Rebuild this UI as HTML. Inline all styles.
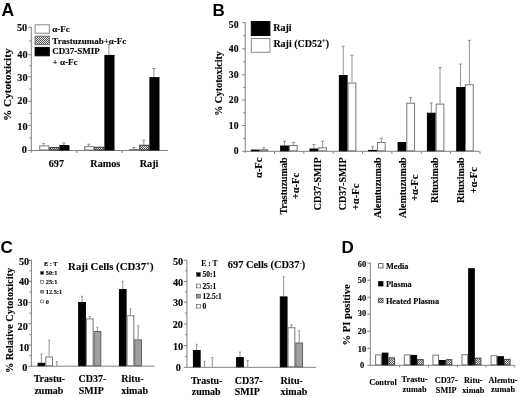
<!DOCTYPE html><html><head><meta charset="utf-8"><style>html,body{margin:0;padding:0;background:#fff;overflow:hidden}svg{display:block;filter:blur(0.3px);}</style></head><body>
<svg width="520" height="397" viewBox="0 0 520 397">
<defs><pattern id="hat" width="2" height="2" patternUnits="userSpaceOnUse"><rect width="2" height="2" fill="#e8e8e8"/><rect width="1" height="1" fill="#555"/><rect x="1" y="1" width="1" height="1" fill="#555"/></pattern></defs>
<rect width="520" height="397" fill="#fff"/>
<text x="1.40" y="15.60" font-size="17.5" text-anchor="start" style="font-family:'Liberation Sans',sans-serif;font-weight:bold" fill="#000">A</text>
<text x="212.60" y="15.80" font-size="17" text-anchor="start" style="font-family:'Liberation Sans',sans-serif;font-weight:bold" fill="#000">B</text>
<text x="0.60" y="252.80" font-size="17" text-anchor="start" style="font-family:'Liberation Sans',sans-serif;font-weight:bold" fill="#000">C</text>
<text x="341.60" y="252.80" font-size="17" text-anchor="start" style="font-family:'Liberation Sans',sans-serif;font-weight:bold" fill="#000">D</text>
<line x1="31.30" y1="27.00" x2="31.30" y2="152.80" stroke="#808080" stroke-width="1"/>
<line x1="28.30" y1="150.50" x2="31.30" y2="150.50" stroke="#808080" stroke-width="1"/>
<line x1="28.30" y1="125.40" x2="31.30" y2="125.40" stroke="#808080" stroke-width="1"/>
<line x1="28.30" y1="101.40" x2="31.30" y2="101.40" stroke="#808080" stroke-width="1"/>
<line x1="28.30" y1="76.80" x2="31.30" y2="76.80" stroke="#808080" stroke-width="1"/>
<line x1="28.30" y1="54.70" x2="31.30" y2="54.70" stroke="#808080" stroke-width="1"/>
<line x1="28.30" y1="27.30" x2="31.30" y2="27.30" stroke="#808080" stroke-width="1"/>
<line x1="29.30" y1="41.00" x2="31.30" y2="41.00" stroke="#808080" stroke-width="1"/>
<line x1="29.30" y1="65.75" x2="31.30" y2="65.75" stroke="#808080" stroke-width="1"/>
<line x1="29.30" y1="89.10" x2="31.30" y2="89.10" stroke="#808080" stroke-width="1"/>
<line x1="29.30" y1="113.40" x2="31.30" y2="113.40" stroke="#808080" stroke-width="1"/>
<line x1="29.30" y1="137.95" x2="31.30" y2="137.95" stroke="#808080" stroke-width="1"/>
<text x="26.80" y="153.05" font-size="10.3" text-anchor="end" style="font-family:'Liberation Serif',serif;font-weight:bold" fill="#000" stroke="#000" stroke-width="0.12">0</text>
<text x="27.60" y="129.85" font-size="10.3" text-anchor="end" style="font-family:'Liberation Serif',serif;font-weight:bold" fill="#000" stroke="#000" stroke-width="0.12">10</text>
<text x="27.60" y="104.45" font-size="10.3" text-anchor="end" style="font-family:'Liberation Serif',serif;font-weight:bold" fill="#000" stroke="#000" stroke-width="0.12">20</text>
<text x="27.60" y="81.35" font-size="10.3" text-anchor="end" style="font-family:'Liberation Serif',serif;font-weight:bold" fill="#000" stroke="#000" stroke-width="0.12">30</text>
<text x="27.60" y="58.05" font-size="10.3" text-anchor="end" style="font-family:'Liberation Serif',serif;font-weight:bold" fill="#000" stroke="#000" stroke-width="0.12">40</text>
<text x="27.20" y="31.15" font-size="10.3" text-anchor="end" style="font-family:'Liberation Serif',serif;font-weight:bold" fill="#000" stroke="#000" stroke-width="0.12">50</text>
<line x1="31.30" y1="150.50" x2="168.00" y2="150.50" stroke="#808080" stroke-width="1"/>
<line x1="76.70" y1="150.50" x2="76.70" y2="153.00" stroke="#808080" stroke-width="1"/>
<line x1="122.00" y1="150.50" x2="122.00" y2="153.00" stroke="#808080" stroke-width="1"/>
<line x1="43.70" y1="145.40" x2="43.70" y2="143.60" stroke="#909090" stroke-width="1"/>
<line x1="42.20" y1="143.60" x2="45.20" y2="143.60" stroke="#909090" stroke-width="1"/>
<rect x="39.70" y="145.90" width="9.10" height="4.10" fill="#fff" stroke="#777777" stroke-width="1"/>
<rect x="49.80" y="147.60" width="9.10" height="2.40" fill="url(#hat)" stroke="#333" stroke-width="1"/>
<line x1="63.90" y1="145.10" x2="63.90" y2="143.10" stroke="#909090" stroke-width="1"/>
<line x1="62.40" y1="143.10" x2="65.40" y2="143.10" stroke="#909090" stroke-width="1"/>
<rect x="59.90" y="145.60" width="9.10" height="4.40" fill="#000" stroke="#000" stroke-width="1"/>
<line x1="88.70" y1="146.20" x2="88.70" y2="144.20" stroke="#909090" stroke-width="1"/>
<line x1="87.20" y1="144.20" x2="90.20" y2="144.20" stroke="#909090" stroke-width="1"/>
<rect x="84.70" y="146.70" width="9.10" height="3.30" fill="#fff" stroke="#777777" stroke-width="1"/>
<rect x="94.80" y="147.20" width="9.10" height="2.80" fill="url(#hat)" stroke="#333" stroke-width="1"/>
<line x1="108.90" y1="54.90" x2="108.90" y2="44.60" stroke="#909090" stroke-width="1"/>
<line x1="107.40" y1="44.60" x2="110.40" y2="44.60" stroke="#909090" stroke-width="1"/>
<rect x="104.90" y="55.40" width="9.10" height="94.60" fill="#000" stroke="#000" stroke-width="1"/>
<line x1="133.70" y1="149.00" x2="133.70" y2="147.50" stroke="#909090" stroke-width="1"/>
<line x1="132.20" y1="147.50" x2="135.20" y2="147.50" stroke="#909090" stroke-width="1"/>
<rect x="129.70" y="149.50" width="9.10" height="0.50" fill="#fff" stroke="#777777" stroke-width="1"/>
<line x1="143.80" y1="144.80" x2="143.80" y2="140.20" stroke="#909090" stroke-width="1"/>
<line x1="142.30" y1="140.20" x2="145.30" y2="140.20" stroke="#909090" stroke-width="1"/>
<rect x="139.80" y="145.30" width="9.10" height="4.70" fill="url(#hat)" stroke="#333" stroke-width="1"/>
<line x1="153.90" y1="77.20" x2="153.90" y2="68.50" stroke="#909090" stroke-width="1"/>
<line x1="152.40" y1="68.50" x2="155.40" y2="68.50" stroke="#909090" stroke-width="1"/>
<rect x="149.90" y="77.70" width="9.10" height="72.30" fill="#000" stroke="#000" stroke-width="1"/>
<rect x="35.10" y="24.80" width="14.20" height="8.40" fill="#fff" stroke="#888" stroke-width="1"/>
<rect x="35.10" y="36.20" width="14.20" height="8.40" fill="url(#hat)" stroke="#666" stroke-width="1"/>
<rect x="35.10" y="47.40" width="14.20" height="8.40" fill="#000" stroke="#000" stroke-width="1"/>
<text x="52.30" y="31.50" font-size="9" text-anchor="start" style="font-family:'Liberation Serif',serif;font-weight:bold" fill="#000" stroke="#000" stroke-width="0.12">α-Fc</text>
<text x="52.30" y="43.50" font-size="9" text-anchor="start" style="font-family:'Liberation Serif',serif;font-weight:bold" fill="#000" stroke="#000" stroke-width="0.12">Trastuzumab+α-Fc</text>
<text x="52.30" y="54.30" font-size="9" text-anchor="start" style="font-family:'Liberation Serif',serif;font-weight:bold" fill="#000" stroke="#000" stroke-width="0.12">CD37-SMIP</text>
<text x="52.60" y="64.80" font-size="9" text-anchor="start" style="font-family:'Liberation Serif',serif;font-weight:bold" fill="#000" stroke="#000" stroke-width="0.12">+ α-Fc</text>
<text x="0" y="0" font-size="11.2" text-anchor="middle" style="font-family:'Liberation Serif',serif;font-weight:bold" stroke="#000" stroke-width="0.12" transform="translate(11.00,84.70) rotate(-90)">% Cytotoxicity</text>
<text x="56.40" y="166.60" font-size="10.2" text-anchor="middle" style="font-family:'Liberation Serif',serif;font-weight:bold" fill="#000" stroke="#000" stroke-width="0.12">697</text>
<text x="105.30" y="166.60" font-size="10.2" text-anchor="middle" style="font-family:'Liberation Serif',serif;font-weight:bold" fill="#000" stroke="#000" stroke-width="0.12">Ramos</text>
<text x="149.10" y="166.60" font-size="10.2" text-anchor="middle" style="font-family:'Liberation Serif',serif;font-weight:bold" fill="#000" stroke="#000" stroke-width="0.12">Raji</text>
<line x1="245.20" y1="22.50" x2="245.20" y2="152.80" stroke="#808080" stroke-width="1"/>
<line x1="242.20" y1="151.30" x2="245.20" y2="151.30" stroke="#808080" stroke-width="1"/>
<line x1="242.20" y1="125.50" x2="245.20" y2="125.50" stroke="#808080" stroke-width="1"/>
<line x1="242.20" y1="100.00" x2="245.20" y2="100.00" stroke="#808080" stroke-width="1"/>
<line x1="242.20" y1="74.80" x2="245.20" y2="74.80" stroke="#808080" stroke-width="1"/>
<line x1="242.20" y1="48.80" x2="245.20" y2="48.80" stroke="#808080" stroke-width="1"/>
<line x1="242.20" y1="22.70" x2="245.20" y2="22.70" stroke="#808080" stroke-width="1"/>
<line x1="243.20" y1="35.75" x2="245.20" y2="35.75" stroke="#808080" stroke-width="1"/>
<line x1="243.20" y1="61.80" x2="245.20" y2="61.80" stroke="#808080" stroke-width="1"/>
<line x1="243.20" y1="87.40" x2="245.20" y2="87.40" stroke="#808080" stroke-width="1"/>
<line x1="243.20" y1="112.75" x2="245.20" y2="112.75" stroke="#808080" stroke-width="1"/>
<line x1="243.20" y1="138.40" x2="245.20" y2="138.40" stroke="#808080" stroke-width="1"/>
<text x="238.50" y="153.85" font-size="9.7" text-anchor="end" style="font-family:'Liberation Serif',serif;font-weight:bold" fill="#000" stroke="#000" stroke-width="0.12">0</text>
<text x="238.50" y="129.05" font-size="9.7" text-anchor="end" style="font-family:'Liberation Serif',serif;font-weight:bold" fill="#000" stroke="#000" stroke-width="0.12">10</text>
<text x="238.50" y="103.45" font-size="9.7" text-anchor="end" style="font-family:'Liberation Serif',serif;font-weight:bold" fill="#000" stroke="#000" stroke-width="0.12">20</text>
<text x="238.50" y="78.35" font-size="9.7" text-anchor="end" style="font-family:'Liberation Serif',serif;font-weight:bold" fill="#000" stroke="#000" stroke-width="0.12">30</text>
<text x="238.50" y="52.05" font-size="9.7" text-anchor="end" style="font-family:'Liberation Serif',serif;font-weight:bold" fill="#000" stroke="#000" stroke-width="0.12">40</text>
<text x="238.50" y="27.75" font-size="9.7" text-anchor="end" style="font-family:'Liberation Serif',serif;font-weight:bold" fill="#000" stroke="#000" stroke-width="0.12">50</text>
<line x1="245.20" y1="151.30" x2="479.50" y2="151.30" stroke="#808080" stroke-width="1"/>
<line x1="274.50" y1="151.30" x2="274.50" y2="153.80" stroke="#808080" stroke-width="1"/>
<line x1="303.85" y1="151.30" x2="303.85" y2="153.80" stroke="#808080" stroke-width="1"/>
<line x1="333.20" y1="151.30" x2="333.20" y2="153.80" stroke="#808080" stroke-width="1"/>
<line x1="362.55" y1="151.30" x2="362.55" y2="153.80" stroke="#808080" stroke-width="1"/>
<line x1="391.90" y1="151.30" x2="391.90" y2="153.80" stroke="#808080" stroke-width="1"/>
<line x1="421.25" y1="151.30" x2="421.25" y2="153.80" stroke="#808080" stroke-width="1"/>
<line x1="450.60" y1="151.30" x2="450.60" y2="153.80" stroke="#808080" stroke-width="1"/>
<line x1="479.95" y1="151.30" x2="479.95" y2="153.80" stroke="#808080" stroke-width="1"/>
<line x1="263.93" y1="149.20" x2="263.93" y2="147.80" stroke="#909090" stroke-width="1"/>
<line x1="262.43" y1="147.80" x2="265.43" y2="147.80" stroke="#909090" stroke-width="1"/>
<rect x="251.30" y="150.10" width="7.75" height="0.70" fill="#000" stroke="#000" stroke-width="1"/>
<rect x="260.05" y="149.70" width="7.75" height="1.10" fill="#fff" stroke="#777777" stroke-width="1"/>
<line x1="284.53" y1="145.50" x2="284.53" y2="141.20" stroke="#909090" stroke-width="1"/>
<line x1="283.03" y1="141.20" x2="286.03" y2="141.20" stroke="#909090" stroke-width="1"/>
<line x1="293.28" y1="145.00" x2="293.28" y2="142.40" stroke="#909090" stroke-width="1"/>
<line x1="291.78" y1="142.40" x2="294.78" y2="142.40" stroke="#909090" stroke-width="1"/>
<rect x="280.65" y="146.00" width="7.75" height="4.80" fill="#000" stroke="#000" stroke-width="1"/>
<rect x="289.40" y="145.50" width="7.75" height="5.30" fill="#fff" stroke="#777777" stroke-width="1"/>
<line x1="313.88" y1="148.50" x2="313.88" y2="144.50" stroke="#909090" stroke-width="1"/>
<line x1="312.38" y1="144.50" x2="315.38" y2="144.50" stroke="#909090" stroke-width="1"/>
<line x1="322.62" y1="147.30" x2="322.62" y2="141.20" stroke="#909090" stroke-width="1"/>
<line x1="321.12" y1="141.20" x2="324.12" y2="141.20" stroke="#909090" stroke-width="1"/>
<rect x="310.00" y="149.00" width="7.75" height="1.80" fill="#000" stroke="#000" stroke-width="1"/>
<rect x="318.75" y="147.80" width="7.75" height="3.00" fill="#fff" stroke="#777777" stroke-width="1"/>
<line x1="343.23" y1="75.00" x2="343.23" y2="46.30" stroke="#909090" stroke-width="1"/>
<line x1="341.73" y1="46.30" x2="344.73" y2="46.30" stroke="#909090" stroke-width="1"/>
<line x1="351.98" y1="82.60" x2="351.98" y2="55.20" stroke="#909090" stroke-width="1"/>
<line x1="350.48" y1="55.20" x2="353.48" y2="55.20" stroke="#909090" stroke-width="1"/>
<rect x="339.35" y="75.50" width="7.75" height="75.30" fill="#000" stroke="#000" stroke-width="1"/>
<rect x="348.10" y="83.10" width="7.75" height="67.70" fill="#fff" stroke="#777777" stroke-width="1"/>
<line x1="372.58" y1="149.90" x2="372.58" y2="146.70" stroke="#909090" stroke-width="1"/>
<line x1="371.08" y1="146.70" x2="374.08" y2="146.70" stroke="#909090" stroke-width="1"/>
<line x1="381.33" y1="142.00" x2="381.33" y2="138.10" stroke="#909090" stroke-width="1"/>
<line x1="379.83" y1="138.10" x2="382.83" y2="138.10" stroke="#909090" stroke-width="1"/>
<rect x="368.70" y="150.40" width="7.75" height="0.40" fill="#000" stroke="#000" stroke-width="1"/>
<rect x="377.45" y="142.50" width="7.75" height="8.30" fill="#fff" stroke="#777777" stroke-width="1"/>
<line x1="410.68" y1="102.70" x2="410.68" y2="97.40" stroke="#909090" stroke-width="1"/>
<line x1="409.18" y1="97.40" x2="412.18" y2="97.40" stroke="#909090" stroke-width="1"/>
<rect x="398.05" y="142.50" width="7.75" height="8.30" fill="#000" stroke="#000" stroke-width="1"/>
<rect x="406.80" y="103.20" width="7.75" height="47.60" fill="#fff" stroke="#777777" stroke-width="1"/>
<line x1="431.28" y1="112.70" x2="431.28" y2="103.00" stroke="#909090" stroke-width="1"/>
<line x1="429.78" y1="103.00" x2="432.78" y2="103.00" stroke="#909090" stroke-width="1"/>
<line x1="440.03" y1="103.60" x2="440.03" y2="67.60" stroke="#909090" stroke-width="1"/>
<line x1="438.53" y1="67.60" x2="441.53" y2="67.60" stroke="#909090" stroke-width="1"/>
<rect x="427.40" y="113.20" width="7.75" height="37.60" fill="#000" stroke="#000" stroke-width="1"/>
<rect x="436.15" y="104.10" width="7.75" height="46.70" fill="#fff" stroke="#777777" stroke-width="1"/>
<line x1="460.62" y1="87.00" x2="460.62" y2="64.10" stroke="#909090" stroke-width="1"/>
<line x1="459.12" y1="64.10" x2="462.12" y2="64.10" stroke="#909090" stroke-width="1"/>
<line x1="469.38" y1="84.20" x2="469.38" y2="40.30" stroke="#909090" stroke-width="1"/>
<line x1="467.88" y1="40.30" x2="470.88" y2="40.30" stroke="#909090" stroke-width="1"/>
<rect x="456.75" y="87.50" width="7.75" height="63.30" fill="#000" stroke="#000" stroke-width="1"/>
<rect x="465.50" y="84.70" width="7.75" height="66.10" fill="#fff" stroke="#777777" stroke-width="1"/>
<rect x="251.30" y="21.50" width="18.60" height="14.00" fill="#000" stroke="#000" stroke-width="1"/>
<rect x="251.30" y="38.50" width="18.60" height="13.80" fill="#fff" stroke="#888" stroke-width="1"/>
<text x="273.20" y="31.20" font-size="10" text-anchor="start" style="font-family:'Liberation Serif',serif;font-weight:bold" fill="#000" stroke="#000" stroke-width="0.12">Raji</text>
<text x="273.40" y="46.80" font-size="10" text-anchor="start" style="font-family:'Liberation Serif',serif;font-weight:bold" fill="#000" stroke="#000" stroke-width="0.12">Raji (CD52<tspan font-size="6.5" dy="-3.5">+</tspan><tspan dy="3.5">)</tspan></text>
<text x="0" y="0" font-size="10" text-anchor="middle" style="font-family:'Liberation Serif',serif;font-weight:bold" stroke="#000" stroke-width="0.12" transform="translate(222.20,83.50) rotate(-90)">% Cytotoxicity</text>
<text x="0" y="0" font-size="10.6" text-anchor="middle" style="font-family:'Liberation Serif',serif;font-weight:bold" stroke="#000" stroke-width="0.12" transform="translate(262.10,167.80) rotate(-90)">α-Fc</text>
<text x="0" y="0" font-size="10" text-anchor="middle" style="font-family:'Liberation Serif',serif;font-weight:bold" stroke="#000" stroke-width="0.12" transform="translate(287.30,186.03) rotate(-90)">Trastuzumab</text>
<text x="0" y="0" font-size="10.6" text-anchor="middle" style="font-family:'Liberation Serif',serif;font-weight:bold" stroke="#000" stroke-width="0.12" transform="translate(299.10,186.03) rotate(-90)">+α-Fc</text>
<text x="0" y="0" font-size="10" text-anchor="middle" style="font-family:'Liberation Serif',serif;font-weight:bold" stroke="#000" stroke-width="0.12" transform="translate(320.50,183.89) rotate(-90)">CD37-SMIP</text>
<text x="0" y="0" font-size="10" text-anchor="start" style="font-family:'Liberation Serif',serif;font-weight:bold" stroke="#000" stroke-width="0.12" transform="translate(346.40,210.28) rotate(-90)">CD37-SMIP</text>
<text x="0" y="0" font-size="10.6" text-anchor="start" style="font-family:'Liberation Serif',serif;font-weight:bold" stroke="#000" stroke-width="0.12" transform="translate(359.40,210.28) rotate(-90)">+α-Fc</text>
<text x="0" y="0" font-size="10" text-anchor="middle" style="font-family:'Liberation Serif',serif;font-weight:bold" stroke="#000" stroke-width="0.12" transform="translate(381.40,187.78) rotate(-90)">Alemtuzumab</text>
<text x="0" y="0" font-size="10" text-anchor="middle" style="font-family:'Liberation Serif',serif;font-weight:bold" stroke="#000" stroke-width="0.12" transform="translate(405.50,187.78) rotate(-90)">Alemtuzumab</text>
<text x="0" y="0" font-size="10.6" text-anchor="middle" style="font-family:'Liberation Serif',serif;font-weight:bold" stroke="#000" stroke-width="0.12" transform="translate(418.30,187.78) rotate(-90)">+α-Fc</text>
<text x="0" y="0" font-size="10" text-anchor="middle" style="font-family:'Liberation Serif',serif;font-weight:bold" stroke="#000" stroke-width="0.12" transform="translate(438.30,180.28) rotate(-90)">Rituximab</text>
<text x="0" y="0" font-size="10" text-anchor="middle" style="font-family:'Liberation Serif',serif;font-weight:bold" stroke="#000" stroke-width="0.12" transform="translate(464.30,180.28) rotate(-90)">Rituximab</text>
<text x="0" y="0" font-size="10.6" text-anchor="middle" style="font-family:'Liberation Serif',serif;font-weight:bold" stroke="#000" stroke-width="0.12" transform="translate(477.30,180.28) rotate(-90)">+α-Fc</text>
<line x1="31.40" y1="259.50" x2="31.40" y2="367.00" stroke="#808080" stroke-width="1"/>
<line x1="28.40" y1="366.20" x2="31.40" y2="366.20" stroke="#808080" stroke-width="1"/>
<line x1="28.40" y1="345.00" x2="31.40" y2="345.00" stroke="#808080" stroke-width="1"/>
<line x1="28.40" y1="323.70" x2="31.40" y2="323.70" stroke="#808080" stroke-width="1"/>
<line x1="28.40" y1="302.60" x2="31.40" y2="302.60" stroke="#808080" stroke-width="1"/>
<line x1="28.40" y1="281.20" x2="31.40" y2="281.20" stroke="#808080" stroke-width="1"/>
<line x1="28.40" y1="260.40" x2="31.40" y2="260.40" stroke="#808080" stroke-width="1"/>
<line x1="29.40" y1="270.80" x2="31.40" y2="270.80" stroke="#808080" stroke-width="1"/>
<line x1="29.40" y1="291.90" x2="31.40" y2="291.90" stroke="#808080" stroke-width="1"/>
<line x1="29.40" y1="313.15" x2="31.40" y2="313.15" stroke="#808080" stroke-width="1"/>
<line x1="29.40" y1="334.35" x2="31.40" y2="334.35" stroke="#808080" stroke-width="1"/>
<line x1="29.40" y1="355.60" x2="31.40" y2="355.60" stroke="#808080" stroke-width="1"/>
<text x="27.30" y="371.12" font-size="10.2" text-anchor="end" style="font-family:'Liberation Serif',serif;font-weight:bold" fill="#000" stroke="#000" stroke-width="0.12">0</text>
<text x="29.10" y="350.62" font-size="10.2" text-anchor="end" style="font-family:'Liberation Serif',serif;font-weight:bold" fill="#000" stroke="#000" stroke-width="0.12">10</text>
<text x="27.80" y="329.62" font-size="10.2" text-anchor="end" style="font-family:'Liberation Serif',serif;font-weight:bold" fill="#000" stroke="#000" stroke-width="0.12">20</text>
<text x="27.80" y="306.12" font-size="10.2" text-anchor="end" style="font-family:'Liberation Serif',serif;font-weight:bold" fill="#000" stroke="#000" stroke-width="0.12">30</text>
<text x="29.20" y="284.82" font-size="10.2" text-anchor="end" style="font-family:'Liberation Serif',serif;font-weight:bold" fill="#000" stroke="#000" stroke-width="0.12">40</text>
<text x="29.20" y="265.02" font-size="10.2" text-anchor="end" style="font-family:'Liberation Serif',serif;font-weight:bold" fill="#000" stroke="#000" stroke-width="0.12">50</text>
<line x1="31.40" y1="366.20" x2="154.40" y2="366.20" stroke="#808080" stroke-width="1"/>
<line x1="41.45" y1="362.80" x2="41.45" y2="354.00" stroke="#909090" stroke-width="1"/>
<line x1="40.45" y1="354.00" x2="42.45" y2="354.00" stroke="#909090" stroke-width="1"/>
<rect x="38.10" y="363.30" width="6.70" height="2.40" fill="#000" stroke="#000" stroke-width="1"/>
<line x1="49.15" y1="356.50" x2="49.15" y2="340.20" stroke="#909090" stroke-width="1"/>
<line x1="48.15" y1="340.20" x2="50.15" y2="340.20" stroke="#909090" stroke-width="1"/>
<rect x="45.80" y="357.00" width="6.70" height="8.70" fill="#fff" stroke="#777777" stroke-width="1"/>
<line x1="56.85" y1="366.20" x2="56.85" y2="361.60" stroke="#909090" stroke-width="1"/>
<line x1="55.85" y1="361.60" x2="57.85" y2="361.60" stroke="#909090" stroke-width="1"/>
<line x1="82.05" y1="302.00" x2="82.05" y2="296.30" stroke="#909090" stroke-width="1"/>
<line x1="81.05" y1="296.30" x2="83.05" y2="296.30" stroke="#909090" stroke-width="1"/>
<rect x="78.70" y="302.50" width="6.70" height="63.20" fill="#000" stroke="#000" stroke-width="1"/>
<line x1="89.75" y1="318.40" x2="89.75" y2="316.50" stroke="#909090" stroke-width="1"/>
<line x1="88.75" y1="316.50" x2="90.75" y2="316.50" stroke="#909090" stroke-width="1"/>
<rect x="86.40" y="318.90" width="6.70" height="46.80" fill="#fff" stroke="#777777" stroke-width="1"/>
<line x1="97.45" y1="331.00" x2="97.45" y2="327.20" stroke="#909090" stroke-width="1"/>
<line x1="96.45" y1="327.20" x2="98.45" y2="327.20" stroke="#909090" stroke-width="1"/>
<rect x="94.10" y="331.50" width="6.70" height="34.20" fill="#a0a0a0" stroke="#606060" stroke-width="1"/>
<line x1="122.75" y1="289.10" x2="122.75" y2="281.30" stroke="#909090" stroke-width="1"/>
<line x1="121.75" y1="281.30" x2="123.75" y2="281.30" stroke="#909090" stroke-width="1"/>
<rect x="119.40" y="289.60" width="6.70" height="76.10" fill="#000" stroke="#000" stroke-width="1"/>
<line x1="130.45" y1="315.30" x2="130.45" y2="309.00" stroke="#909090" stroke-width="1"/>
<line x1="129.45" y1="309.00" x2="131.45" y2="309.00" stroke="#909090" stroke-width="1"/>
<rect x="127.10" y="315.80" width="6.70" height="49.90" fill="#fff" stroke="#777777" stroke-width="1"/>
<line x1="138.15" y1="339.40" x2="138.15" y2="325.80" stroke="#909090" stroke-width="1"/>
<line x1="137.15" y1="325.80" x2="139.15" y2="325.80" stroke="#909090" stroke-width="1"/>
<rect x="134.80" y="339.90" width="6.70" height="25.80" fill="#a0a0a0" stroke="#606060" stroke-width="1"/>
<text x="44.00" y="266.30" font-size="6.3" text-anchor="start" style="font-family:'Liberation Serif',serif;font-weight:bold" fill="#000" stroke="#000" stroke-width="0.12">E : T</text>
<rect x="40.70" y="271.50" width="2.80" height="2.80" fill="#000" stroke="#444" stroke-width="0.6"/>
<rect x="40.70" y="280.60" width="2.80" height="2.80" fill="#fff" stroke="#444" stroke-width="0.6"/>
<rect x="40.70" y="290.30" width="2.80" height="2.80" fill="#999" stroke="#444" stroke-width="0.6"/>
<rect x="40.70" y="300.00" width="2.80" height="2.80" fill="#fff" stroke="#444" stroke-width="0.6"/>
<text x="45.80" y="275.10" font-size="6.3" text-anchor="start" style="font-family:'Liberation Serif',serif;font-weight:bold" fill="#000" stroke="#000" stroke-width="0.12">50:1</text>
<text x="45.80" y="284.20" font-size="6.3" text-anchor="start" style="font-family:'Liberation Serif',serif;font-weight:bold" fill="#000" stroke="#000" stroke-width="0.12">25:1</text>
<text x="45.80" y="293.90" font-size="6.3" text-anchor="start" style="font-family:'Liberation Serif',serif;font-weight:bold" fill="#000" stroke="#000" stroke-width="0.12">12.5:1</text>
<text x="45.80" y="303.60" font-size="6.3" text-anchor="start" style="font-family:'Liberation Serif',serif;font-weight:bold" fill="#000" stroke="#000" stroke-width="0.12">0</text>
<text x="68.10" y="269.80" font-size="10.8" text-anchor="start" style="font-family:'Liberation Serif',serif;font-weight:bold" fill="#000" stroke="#000" stroke-width="0.12">Raji Cells (CD37<tspan font-size="6.8" dy="-3.6">+</tspan><tspan dy="3.6">)</tspan></text>
<text x="0" y="0" font-size="10.3" text-anchor="middle" style="font-family:'Liberation Serif',serif;font-weight:bold" stroke="#000" stroke-width="0.12" transform="translate(12.80,320.50) rotate(-90)">% Relative Cytotoxicity</text>
<text x="33.70" y="382.10" font-size="10" text-anchor="start" style="font-family:'Liberation Serif',serif;font-weight:bold" fill="#000" stroke="#000" stroke-width="0.12">Trastu-</text>
<text x="34.40" y="394.00" font-size="10" text-anchor="start" style="font-family:'Liberation Serif',serif;font-weight:bold" fill="#000" stroke="#000" stroke-width="0.12">zumab</text>
<text x="78.50" y="382.10" font-size="10" text-anchor="start" style="font-family:'Liberation Serif',serif;font-weight:bold" fill="#000" stroke="#000" stroke-width="0.12">CD37-</text>
<text x="78.80" y="394.00" font-size="10" text-anchor="start" style="font-family:'Liberation Serif',serif;font-weight:bold" fill="#000" stroke="#000" stroke-width="0.12">SMIP</text>
<text x="121.30" y="382.10" font-size="10" text-anchor="start" style="font-family:'Liberation Serif',serif;font-weight:bold" fill="#000" stroke="#000" stroke-width="0.12">Ritu-</text>
<text x="121.30" y="394.00" font-size="10" text-anchor="start" style="font-family:'Liberation Serif',serif;font-weight:bold" fill="#000" stroke="#000" stroke-width="0.12">ximab</text>
<line x1="186.90" y1="259.50" x2="186.90" y2="368.00" stroke="#808080" stroke-width="1"/>
<line x1="183.90" y1="367.30" x2="186.90" y2="367.30" stroke="#808080" stroke-width="1"/>
<line x1="183.90" y1="345.60" x2="186.90" y2="345.60" stroke="#808080" stroke-width="1"/>
<line x1="183.90" y1="324.00" x2="186.90" y2="324.00" stroke="#808080" stroke-width="1"/>
<line x1="183.90" y1="302.20" x2="186.90" y2="302.20" stroke="#808080" stroke-width="1"/>
<line x1="183.90" y1="281.40" x2="186.90" y2="281.40" stroke="#808080" stroke-width="1"/>
<line x1="183.90" y1="260.30" x2="186.90" y2="260.30" stroke="#808080" stroke-width="1"/>
<line x1="184.90" y1="270.85" x2="186.90" y2="270.85" stroke="#808080" stroke-width="1"/>
<line x1="184.90" y1="291.80" x2="186.90" y2="291.80" stroke="#808080" stroke-width="1"/>
<line x1="184.90" y1="313.10" x2="186.90" y2="313.10" stroke="#808080" stroke-width="1"/>
<line x1="184.90" y1="334.80" x2="186.90" y2="334.80" stroke="#808080" stroke-width="1"/>
<line x1="184.90" y1="356.45" x2="186.90" y2="356.45" stroke="#808080" stroke-width="1"/>
<text x="180.90" y="370.92" font-size="10.2" text-anchor="end" style="font-family:'Liberation Serif',serif;font-weight:bold" fill="#000" stroke="#000" stroke-width="0.12">0</text>
<text x="183.10" y="349.82" font-size="10.2" text-anchor="end" style="font-family:'Liberation Serif',serif;font-weight:bold" fill="#000" stroke="#000" stroke-width="0.12">10</text>
<text x="182.90" y="327.82" font-size="10.2" text-anchor="end" style="font-family:'Liberation Serif',serif;font-weight:bold" fill="#000" stroke="#000" stroke-width="0.12">20</text>
<text x="183.10" y="306.02" font-size="10.2" text-anchor="end" style="font-family:'Liberation Serif',serif;font-weight:bold" fill="#000" stroke="#000" stroke-width="0.12">30</text>
<text x="183.10" y="285.62" font-size="10.2" text-anchor="end" style="font-family:'Liberation Serif',serif;font-weight:bold" fill="#000" stroke="#000" stroke-width="0.12">40</text>
<text x="183.10" y="265.22" font-size="10.2" text-anchor="end" style="font-family:'Liberation Serif',serif;font-weight:bold" fill="#000" stroke="#000" stroke-width="0.12">50</text>
<line x1="186.90" y1="367.30" x2="316.20" y2="367.30" stroke="#808080" stroke-width="1"/>
<line x1="196.78" y1="350.00" x2="196.78" y2="344.30" stroke="#909090" stroke-width="1"/>
<line x1="195.78" y1="344.30" x2="197.78" y2="344.30" stroke="#909090" stroke-width="1"/>
<rect x="193.40" y="350.50" width="6.75" height="16.30" fill="#000" stroke="#000" stroke-width="1"/>
<line x1="204.53" y1="367.30" x2="204.53" y2="361.30" stroke="#909090" stroke-width="1"/>
<line x1="203.53" y1="361.30" x2="205.53" y2="361.30" stroke="#909090" stroke-width="1"/>
<line x1="212.28" y1="367.30" x2="212.28" y2="357.50" stroke="#909090" stroke-width="1"/>
<line x1="211.28" y1="357.50" x2="213.28" y2="357.50" stroke="#909090" stroke-width="1"/>
<line x1="239.97" y1="357.10" x2="239.97" y2="352.10" stroke="#909090" stroke-width="1"/>
<line x1="238.97" y1="352.10" x2="240.97" y2="352.10" stroke="#909090" stroke-width="1"/>
<rect x="236.60" y="357.60" width="6.75" height="9.20" fill="#000" stroke="#000" stroke-width="1"/>
<line x1="247.72" y1="367.30" x2="247.72" y2="360.50" stroke="#909090" stroke-width="1"/>
<line x1="246.72" y1="360.50" x2="248.72" y2="360.50" stroke="#909090" stroke-width="1"/>
<line x1="283.68" y1="296.40" x2="283.68" y2="276.80" stroke="#909090" stroke-width="1"/>
<line x1="282.68" y1="276.80" x2="284.68" y2="276.80" stroke="#909090" stroke-width="1"/>
<rect x="280.30" y="296.90" width="6.75" height="69.90" fill="#000" stroke="#000" stroke-width="1"/>
<line x1="291.43" y1="327.20" x2="291.43" y2="324.80" stroke="#909090" stroke-width="1"/>
<line x1="290.43" y1="324.80" x2="292.43" y2="324.80" stroke="#909090" stroke-width="1"/>
<rect x="288.05" y="327.70" width="6.75" height="39.10" fill="#fff" stroke="#777777" stroke-width="1"/>
<line x1="299.18" y1="342.50" x2="299.18" y2="330.80" stroke="#909090" stroke-width="1"/>
<line x1="298.18" y1="330.80" x2="300.18" y2="330.80" stroke="#909090" stroke-width="1"/>
<rect x="295.80" y="343.00" width="6.75" height="23.80" fill="#a0a0a0" stroke="#606060" stroke-width="1"/>
<text x="201.30" y="265.80" font-size="7.5" text-anchor="start" style="font-family:'Liberation Serif',serif;font-weight:bold" fill="#000" stroke="#000" stroke-width="0.12">E : T</text>
<rect x="196.60" y="272.60" width="3.80" height="3.80" fill="#000" stroke="#444" stroke-width="0.6"/>
<rect x="196.60" y="284.10" width="3.80" height="3.80" fill="#fff" stroke="#444" stroke-width="0.6"/>
<rect x="196.60" y="294.20" width="3.80" height="3.80" fill="#999" stroke="#444" stroke-width="0.6"/>
<rect x="196.60" y="304.30" width="3.80" height="3.80" fill="#fff" stroke="#444" stroke-width="0.6"/>
<text x="202.50" y="277.10" font-size="7.5" text-anchor="start" style="font-family:'Liberation Serif',serif;font-weight:bold" fill="#000" stroke="#000" stroke-width="0.12">50:1</text>
<text x="202.50" y="288.60" font-size="7.5" text-anchor="start" style="font-family:'Liberation Serif',serif;font-weight:bold" fill="#000" stroke="#000" stroke-width="0.12">25:1</text>
<text x="202.50" y="298.70" font-size="7.5" text-anchor="start" style="font-family:'Liberation Serif',serif;font-weight:bold" fill="#000" stroke="#000" stroke-width="0.12">12.5:1</text>
<text x="202.50" y="308.80" font-size="7.5" text-anchor="start" style="font-family:'Liberation Serif',serif;font-weight:bold" fill="#000" stroke="#000" stroke-width="0.12">0</text>
<text x="227.80" y="268.20" font-size="10.4" text-anchor="start" style="font-family:'Liberation Serif',serif;font-weight:bold" fill="#000" stroke="#000" stroke-width="0.12">697 Cells (CD37<tspan font-size="6.8" dy="-3.6">-</tspan><tspan dy="3.6">)</tspan></text>
<text x="190.90" y="384.40" font-size="10" text-anchor="start" style="font-family:'Liberation Serif',serif;font-weight:bold" fill="#000" stroke="#000" stroke-width="0.12">Trastu-</text>
<text x="191.70" y="394.60" font-size="10" text-anchor="start" style="font-family:'Liberation Serif',serif;font-weight:bold" fill="#000" stroke="#000" stroke-width="0.12">zumab</text>
<text x="234.80" y="384.40" font-size="10" text-anchor="start" style="font-family:'Liberation Serif',serif;font-weight:bold" fill="#000" stroke="#000" stroke-width="0.12">CD37-</text>
<text x="234.80" y="394.60" font-size="10" text-anchor="start" style="font-family:'Liberation Serif',serif;font-weight:bold" fill="#000" stroke="#000" stroke-width="0.12">SMIP</text>
<text x="280.60" y="384.40" font-size="10" text-anchor="start" style="font-family:'Liberation Serif',serif;font-weight:bold" fill="#000" stroke="#000" stroke-width="0.12">Ritu-</text>
<text x="280.60" y="394.60" font-size="10" text-anchor="start" style="font-family:'Liberation Serif',serif;font-weight:bold" fill="#000" stroke="#000" stroke-width="0.12">ximab</text>
<line x1="370.30" y1="262.50" x2="370.30" y2="366.00" stroke="#808080" stroke-width="1"/>
<line x1="367.30" y1="365.30" x2="370.30" y2="365.30" stroke="#808080" stroke-width="1"/>
<line x1="367.30" y1="348.30" x2="370.30" y2="348.30" stroke="#808080" stroke-width="1"/>
<line x1="367.30" y1="331.20" x2="370.30" y2="331.20" stroke="#808080" stroke-width="1"/>
<line x1="367.30" y1="314.20" x2="370.30" y2="314.20" stroke="#808080" stroke-width="1"/>
<line x1="367.30" y1="297.20" x2="370.30" y2="297.20" stroke="#808080" stroke-width="1"/>
<line x1="367.30" y1="280.20" x2="370.30" y2="280.20" stroke="#808080" stroke-width="1"/>
<line x1="367.30" y1="263.20" x2="370.30" y2="263.20" stroke="#808080" stroke-width="1"/>
<text x="364.10" y="368.21" font-size="8.4" text-anchor="end" style="font-family:'Liberation Serif',serif;font-weight:bold" fill="#000" stroke="#000" stroke-width="0.12">0</text>
<text x="366.10" y="352.11" font-size="8.4" text-anchor="end" style="font-family:'Liberation Serif',serif;font-weight:bold" fill="#000" stroke="#000" stroke-width="0.12">10</text>
<text x="366.10" y="334.41" font-size="8.4" text-anchor="end" style="font-family:'Liberation Serif',serif;font-weight:bold" fill="#000" stroke="#000" stroke-width="0.12">20</text>
<text x="366.10" y="316.41" font-size="8.4" text-anchor="end" style="font-family:'Liberation Serif',serif;font-weight:bold" fill="#000" stroke="#000" stroke-width="0.12">30</text>
<text x="366.10" y="300.51" font-size="8.4" text-anchor="end" style="font-family:'Liberation Serif',serif;font-weight:bold" fill="#000" stroke="#000" stroke-width="0.12">40</text>
<text x="366.10" y="282.61" font-size="8.4" text-anchor="end" style="font-family:'Liberation Serif',serif;font-weight:bold" fill="#000" stroke="#000" stroke-width="0.12">50</text>
<text x="366.10" y="266.61" font-size="8.4" text-anchor="end" style="font-family:'Liberation Serif',serif;font-weight:bold" fill="#000" stroke="#000" stroke-width="0.12">60</text>
<line x1="370.30" y1="365.30" x2="514.80" y2="365.30" stroke="#808080" stroke-width="1"/>
<line x1="399.40" y1="365.30" x2="399.40" y2="367.30" stroke="#808080" stroke-width="1"/>
<line x1="428.50" y1="365.30" x2="428.50" y2="367.30" stroke="#808080" stroke-width="1"/>
<line x1="457.40" y1="365.30" x2="457.40" y2="367.30" stroke="#808080" stroke-width="1"/>
<line x1="485.80" y1="365.30" x2="485.80" y2="367.30" stroke="#808080" stroke-width="1"/>
<line x1="514.80" y1="365.30" x2="514.80" y2="367.30" stroke="#808080" stroke-width="1"/>
<rect x="375.60" y="354.90" width="5.65" height="9.90" fill="#fff" stroke="#777777" stroke-width="1"/>
<rect x="382.25" y="353.10" width="5.65" height="11.70" fill="#000" stroke="#000" stroke-width="1"/>
<rect x="388.90" y="357.90" width="5.65" height="6.90" fill="url(#hat)" stroke="#444" stroke-width="1"/>
<rect x="404.30" y="354.90" width="5.65" height="9.90" fill="#fff" stroke="#777777" stroke-width="1"/>
<rect x="410.95" y="355.40" width="5.65" height="9.40" fill="#000" stroke="#000" stroke-width="1"/>
<rect x="417.60" y="359.60" width="5.65" height="5.20" fill="url(#hat)" stroke="#444" stroke-width="1"/>
<rect x="432.90" y="355.10" width="5.65" height="9.70" fill="#fff" stroke="#777777" stroke-width="1"/>
<rect x="439.55" y="360.50" width="5.65" height="4.30" fill="#000" stroke="#000" stroke-width="1"/>
<rect x="446.20" y="359.70" width="5.65" height="5.10" fill="url(#hat)" stroke="#444" stroke-width="1"/>
<rect x="462.00" y="354.70" width="5.65" height="10.10" fill="#fff" stroke="#777777" stroke-width="1"/>
<rect x="468.65" y="268.70" width="5.65" height="96.10" fill="#000" stroke="#000" stroke-width="1"/>
<rect x="475.30" y="358.20" width="5.65" height="6.60" fill="url(#hat)" stroke="#444" stroke-width="1"/>
<rect x="491.10" y="355.70" width="5.65" height="9.10" fill="#fff" stroke="#777777" stroke-width="1"/>
<rect x="497.75" y="356.70" width="5.65" height="8.10" fill="#000" stroke="#000" stroke-width="1"/>
<rect x="504.40" y="359.40" width="5.65" height="5.40" fill="url(#hat)" stroke="#444" stroke-width="1"/>
<rect x="378.60" y="263.60" width="4.40" height="4.40" fill="#fff" stroke="#444" stroke-width="0.8"/>
<rect x="378.60" y="281.60" width="4.40" height="4.40" fill="#000" stroke="#000" stroke-width="0.8"/>
<rect x="378.60" y="298.30" width="4.40" height="4.40" fill="url(#hat)" stroke="#444" stroke-width="0.8"/>
<text x="385.90" y="268.90" font-size="8.3" text-anchor="start" style="font-family:'Liberation Serif',serif;font-weight:bold" fill="#000" stroke="#000" stroke-width="0.1">Media</text>
<text x="385.90" y="286.60" font-size="8.3" text-anchor="start" style="font-family:'Liberation Serif',serif;font-weight:bold" fill="#000" stroke="#000" stroke-width="0.1">Plasma</text>
<text x="385.90" y="303.80" font-size="8.3" text-anchor="start" style="font-family:'Liberation Serif',serif;font-weight:bold" fill="#000" stroke="#000" stroke-width="0.1">Heated Plasma</text>
<text x="0" y="0" font-size="10.6" text-anchor="middle" style="font-family:'Liberation Serif',serif;font-weight:bold" stroke="#000" stroke-width="0.12" transform="translate(350.30,314.80) rotate(-90)">% PI positive</text>
<text x="383.00" y="385.40" font-size="8.3" text-anchor="middle" style="font-family:'Liberation Serif',serif;font-weight:bold" fill="#000" stroke="#000" stroke-width="0.1">Control</text>
<text x="414.60" y="382.30" font-size="8.3" text-anchor="middle" style="font-family:'Liberation Serif',serif;font-weight:bold" fill="#000" stroke="#000" stroke-width="0.1">Trastu-</text>
<text x="414.60" y="391.50" font-size="8.3" text-anchor="middle" style="font-family:'Liberation Serif',serif;font-weight:bold" fill="#000" stroke="#000" stroke-width="0.1">zumab</text>
<text x="446.20" y="383.30" font-size="8.3" text-anchor="middle" style="font-family:'Liberation Serif',serif;font-weight:bold" fill="#000" stroke="#000" stroke-width="0.1">CD37-</text>
<text x="446.20" y="392.50" font-size="8.3" text-anchor="middle" style="font-family:'Liberation Serif',serif;font-weight:bold" fill="#000" stroke="#000" stroke-width="0.1">SMIP</text>
<text x="473.30" y="383.30" font-size="8.3" text-anchor="middle" style="font-family:'Liberation Serif',serif;font-weight:bold" fill="#000" stroke="#000" stroke-width="0.1">Ritu-</text>
<text x="473.30" y="392.50" font-size="8.3" text-anchor="middle" style="font-family:'Liberation Serif',serif;font-weight:bold" fill="#000" stroke="#000" stroke-width="0.1">ximab</text>
<text x="503.10" y="382.50" font-size="8.3" text-anchor="middle" style="font-family:'Liberation Serif',serif;font-weight:bold" fill="#000" stroke="#000" stroke-width="0.1">Alemtu-</text>
<text x="503.10" y="391.60" font-size="8.3" text-anchor="middle" style="font-family:'Liberation Serif',serif;font-weight:bold" fill="#000" stroke="#000" stroke-width="0.1">zumab</text>
</svg></body></html>
